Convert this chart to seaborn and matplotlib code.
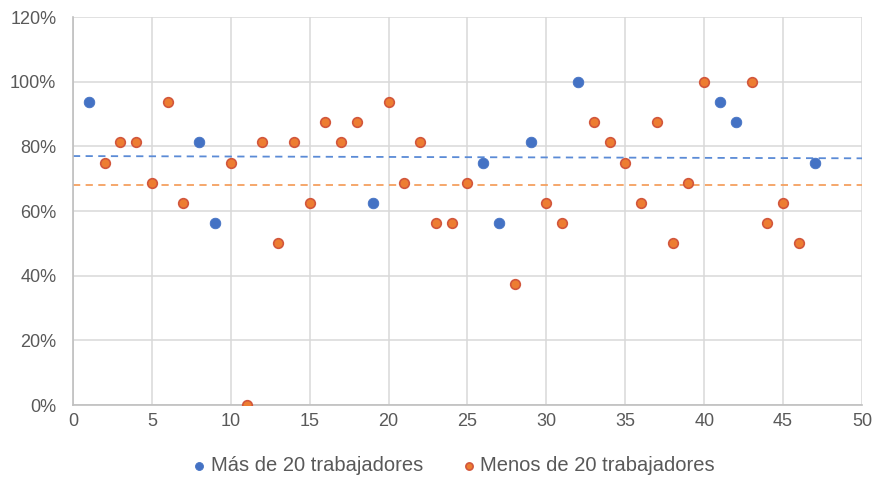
import matplotlib
matplotlib.use("Agg")
import matplotlib.pyplot as plt
import seaborn as sns
import pandas as pd
from matplotlib.ticker import PercentFormatter

# Series labels
serie_mas = "Más de 20 trabajadores"
serie_menos = "Menos de 20 trabajadores"

# Más de 20 trabajadores: (empresa, porcentaje)
x_mas = [1, 8, 9, 19, 26, 27, 29, 32, 41, 42, 47]
y_mas = [93.75, 81.25, 56.25, 62.5, 75, 56.25, 81.25, 100, 93.75, 87.5, 75]

# Menos de 20 trabajadores
x_menos = [2, 3, 4, 5, 6, 7, 10, 11, 12, 13, 14, 15, 16, 17, 18, 20, 21, 22,
           23, 24, 25, 28, 30, 31, 33, 34, 35, 36, 37, 38, 39, 40, 43, 44, 45, 46]
y_menos = [75, 81.25, 81.25, 68.75, 93.75, 62.5, 75, 0, 81.25, 50, 81.25, 62.5,
           87.5, 81.25, 87.5, 93.75, 68.75, 81.25, 56.25, 56.25, 68.75, 37.5,
           62.5, 56.25, 87.5, 81.25, 75, 62.5, 87.5, 50, 68.75, 100, 100, 56.25,
           62.5, 50]

# Reference lines (start/end values across the x range)
linea_x = [0, 50]
linea_mas = [77.0, 76.3]
linea_menos = [68.1, 68.1]

x_ticks = list(range(0, 51, 5))
y_ticks = list(range(0, 121, 20))

df = pd.DataFrame({
    "x": x_mas + x_menos,
    "y": y_mas + y_menos,
    "grupo": [serie_mas] * len(x_mas) + [serie_menos] * len(x_menos),
})

sns.set_theme(style="white")
plt.rcParams["font.family"] = ["Liberation Sans", "DejaVu Sans"]

blue = "#4472C4"
orange = "#ED7D31"

fig = plt.figure(figsize=(8.78, 4.78), dpi=100)
ax = fig.add_axes([0.0831, 0.1527, 0.8987, 0.8117])

# dashed reference lines behind the points
ax.plot(linea_x, linea_mas, color="#5B8BD6", lw=1.3, ls=(0, (4, 3)), zorder=1)
ax.plot(linea_x, linea_menos, color="#F4A060", lw=1.3, ls=(0, (4, 3)), zorder=1)

sns.scatterplot(
    data=df[df.grupo == serie_mas], x="x", y="y", ax=ax,
    color=blue, s=58, edgecolor=blue, linewidth=0.6, zorder=3,
    label=serie_mas,
)
sns.scatterplot(
    data=df[df.grupo == serie_menos], x="x", y="y", ax=ax,
    color=orange, s=48, edgecolor="#D2573C", linewidth=1.2, zorder=3,
    label=serie_menos,
)

ax.set_xlim(0, 50)
ax.set_ylim(0, 120)
ax.set_xticks(x_ticks)
ax.set_yticks(y_ticks)
ax.yaxis.set_major_formatter(PercentFormatter(decimals=0))
ax.grid(True, color="#D9D9D9", lw=1.1)
ax.set_axisbelow(True)
ax.set_xlabel("")
ax.set_ylabel("")
for side in ("top", "right"):
    ax.spines[side].set_visible(False)
for side in ("left", "bottom"):
    ax.spines[side].set_color("#BFBFBF")
    ax.spines[side].set_linewidth(1.2)
ax.tick_params(axis="both", length=0, labelsize=13, colors="#595959")
ax.tick_params(axis="x", pad=6)
ax.tick_params(axis="y", pad=12)

leg = ax.legend(
    loc="upper center", bbox_to_anchor=(0.483, -0.085), ncol=2, frameon=False,
    fontsize=14.5, handlelength=0.6, handletextpad=0.25, columnspacing=2.0,
    markerscale=0.75,
)
for t in leg.get_texts():
    t.set_color("#595959")

fig.savefig("out.png", dpi=100)
